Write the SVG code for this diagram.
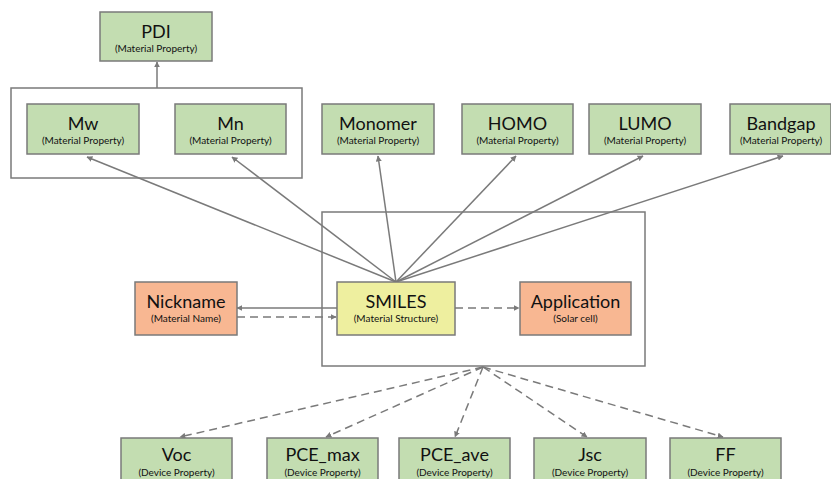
<svg xmlns="http://www.w3.org/2000/svg" width="831" height="479" viewBox="0 0 831 479">
<style>
.g{fill:#c3ddb1;stroke:#7a7a7a;stroke-width:1.5}
.o{fill:#f8b792;stroke:#7a7a7a;stroke-width:1.5}
.y{fill:#eeef9f;stroke:#7a7a7a;stroke-width:1.5}
.frame{fill:none;stroke:#7a7a7a;stroke-width:1.5}
.t{font-family:Lato,"Open Sans",sans-serif;font-size:18px;fill:#111;text-anchor:middle}
.s{font-family:Lato,"Open Sans",sans-serif;font-size:10px;fill:#111;text-anchor:middle}
.c{stroke:#7a7a7a;stroke-width:1.5;fill:none}
.d{stroke-dasharray:8 5}
</style>
<defs>
<marker id="ah" viewBox="0 0 10 10" refX="9" refY="5" markerWidth="6" markerHeight="6" orient="auto" markerUnits="userSpaceOnUse">
<path d="M0,0 L10,5 L0,10 z" fill="#7a7a7a"/>
</marker>
</defs>
<rect width="831" height="479" fill="#fff"/>
<g id="frames">
<rect class="frame" x="11" y="88" width="291" height="90"/>
<rect class="frame" x="322" y="212" width="323" height="154"/>
</g>
<g id="connectors">
<line class="c" x1="157" y1="88" x2="157" y2="62" marker-end="url(#ah)"/>
<line class="c" x1="396" y1="282" x2="87" y2="157" marker-end="url(#ah)"/>
<line class="c" x1="396" y1="282" x2="232" y2="157" marker-end="url(#ah)"/>
<line class="c" x1="396" y1="282" x2="378" y2="156" marker-end="url(#ah)"/>
<line class="c" x1="396" y1="282" x2="516" y2="156" marker-end="url(#ah)"/>
<line class="c" x1="396" y1="282" x2="643" y2="156" marker-end="url(#ah)"/>
<line class="c" x1="396" y1="282" x2="783" y2="156" marker-end="url(#ah)"/>
<line class="c" x1="337" y1="308" x2="237" y2="308" marker-end="url(#ah)"/>
<line class="c d" x1="237" y1="317" x2="336" y2="317" marker-end="url(#ah)"/>
<line class="c d" x1="455" y1="308" x2="519" y2="308" marker-end="url(#ah)"/>
<line class="c d" x1="483" y1="367" x2="180" y2="437" marker-end="url(#ah)"/>
<line class="c d" x1="483" y1="367" x2="326" y2="437" marker-end="url(#ah)"/>
<line class="c d" x1="483" y1="367" x2="455" y2="437" marker-end="url(#ah)"/>
<line class="c d" x1="483" y1="367" x2="587" y2="437" marker-end="url(#ah)"/>
<line class="c d" x1="483" y1="367" x2="723" y2="437" marker-end="url(#ah)"/>
</g>
<g id="pdi"><rect class="g" x="100" y="12" width="112" height="49"/><text class="t" x="156" y="38">PDI</text><text class="s" x="156" y="52">(Material Property)</text></g>
<g id="mw"><rect class="g" x="27" y="104" width="112" height="50"/><text class="t" x="83" y="130">Mw</text><text class="s" x="83" y="144">(Material Property)</text></g>
<g id="mn"><rect class="g" x="175" y="104" width="111" height="50"/><text class="t" x="230.5" y="130">Mn</text><text class="s" x="230.5" y="144">(Material Property)</text></g>
<g id="monomer"><rect class="g" x="322" y="104" width="112" height="50"/><text class="t" x="378" y="130">Monomer</text><text class="s" x="378" y="144">(Material Property)</text></g>
<g id="homo"><rect class="g" x="462" y="104" width="111" height="50"/><text class="t" x="517.5" y="130">HOMO</text><text class="s" x="517.5" y="144">(Material Property)</text></g>
<g id="lumo"><rect class="g" x="589" y="104" width="112" height="50"/><text class="t" x="645" y="130">LUMO</text><text class="s" x="645" y="144">(Material Property)</text></g>
<g id="bandgap"><rect class="g" x="730" y="104" width="101" height="50"/><text class="t" x="781" y="130">Bandgap</text><text class="s" x="781" y="144">(Material Property)</text></g>
<g id="nickname"><rect class="o" x="135" y="282" width="102" height="53"/><text class="t" x="186" y="308">Nickname</text><text class="s" x="186" y="322">(Material Name)</text></g>
<g id="smiles"><rect class="y" x="337" y="282" width="118" height="53"/><text class="t" x="396" y="308">SMILES</text><text class="s" x="396" y="322">(Material Structure)</text></g>
<g id="application"><rect class="o" x="520" y="282" width="111" height="53"/><text class="t" x="575.5" y="308">Application</text><text class="s" x="575.5" y="322">(Solar cell)</text></g>
<g id="voc"><rect class="g" x="121" y="438" width="111" height="50"/><text class="t" x="176.5" y="461">Voc</text><text class="s" x="176.5" y="476">(Device Property)</text></g>
<g id="pce_max"><rect class="g" x="267" y="438" width="111" height="50"/><text class="t" x="322.5" y="461">PCE_max</text><text class="s" x="322.5" y="476">(Device Property)</text></g>
<g id="pce_ave"><rect class="g" x="399" y="438" width="111" height="50"/><text class="t" x="454.5" y="461">PCE_ave</text><text class="s" x="454.5" y="476">(Device Property)</text></g>
<g id="jsc"><rect class="g" x="534" y="438" width="112" height="50"/><text class="t" x="590" y="461">Jsc</text><text class="s" x="590" y="476">(Device Property)</text></g>
<g id="ff"><rect class="g" x="670" y="438" width="111" height="50"/><text class="t" x="725.5" y="461">FF</text><text class="s" x="725.5" y="476">(Device Property)</text></g>
</svg>
